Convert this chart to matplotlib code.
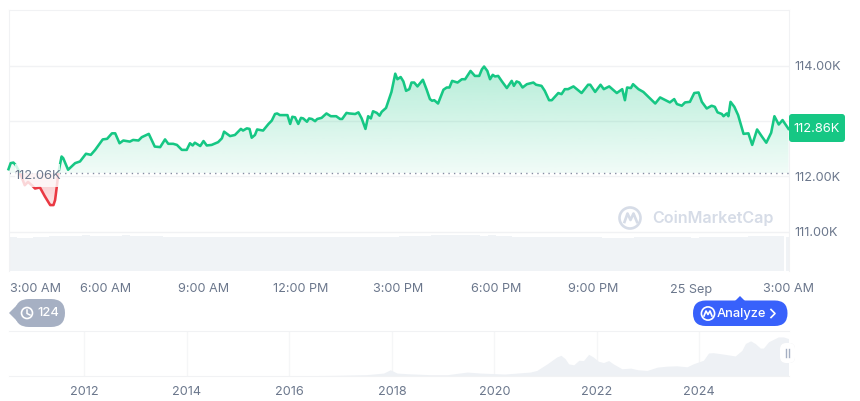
import numpy as np
import matplotlib
matplotlib.use("Agg")
import matplotlib.pyplot as plt
from matplotlib.patches import FancyBboxPatch, Polygon, Rectangle, Circle
from matplotlib.path import Path
from matplotlib.transforms import ScaledTranslation

plt.rcParams["font.family"] = ["Inter", "DejaVu Sans"]

# Price, minutes after 3:00 AM and price in thousands
minutes = [0, 4, 9, 13, 18, 24, 30, 36, 43, 49, 58, 67, 77, 83, 86, 89, 92, 98, 101, 110,
           123, 132, 143, 152, 160, 174, 182, 191, 197, 205, 212, 224, 230, 240, 246, 259, 270, 280, 289, 295,
           304, 311, 320, 329, 335, 340, 344, 354, 360, 366, 375, 387, 394, 398, 409, 418, 429, 433, 440, 445,
           449, 455, 459, 470, 480, 486, 492, 496, 501, 515, 520, 524, 529, 535, 540, 544, 551, 555, 560, 566,
           570, 578, 587, 595, 605, 612, 616, 624, 629, 640, 646, 652, 659, 664, 669, 673, 680, 685, 689, 697,
           707, 714, 718, 724, 729, 734, 740, 744, 749, 755, 765, 772, 778, 782, 786, 793, 803, 809, 814, 819,
           829, 837, 843, 853, 861, 869, 874, 878, 884, 889, 894, 898, 904, 911, 920, 929, 933, 938, 943, 949,
           957, 969, 974, 984, 990, 998, 1003, 1015, 1021, 1027, 1033, 1043, 1058, 1070, 1074, 1083, 1093, 1099, 1109, 1123,
           1133, 1138, 1142, 1149, 1153, 1163, 1172, 1194, 1203, 1209, 1215, 1221, 1229, 1234, 1243, 1249, 1258, 1266, 1274, 1280,
           1289, 1298, 1304, 1309, 1317, 1320, 1326, 1329, 1333, 1340, 1347, 1357, 1366, 1373, 1382, 1391, 1399, 1408, 1414, 1422,
           1429, 1440]
prices = [112.13, 112.24, 112.25, 112.21, 112.12, 111.99, 111.84, 111.90, 111.84, 111.78, 111.80, 111.64, 111.48, 111.48, 111.57, 111.80, 112.06, 112.36, 112.33, 112.12,
          112.24, 112.27, 112.41, 112.39, 112.48, 112.67, 112.68, 112.78, 112.78, 112.60, 112.65, 112.63, 112.66, 112.65, 112.71, 112.77, 112.54, 112.53, 112.67, 112.59,
          112.59, 112.57, 112.48, 112.48, 112.60, 112.56, 112.61, 112.55, 112.64, 112.56, 112.57, 112.62, 112.69, 112.81, 112.73, 112.75, 112.86, 112.83, 112.87, 112.86,
          112.70, 112.75, 112.85, 112.83, 112.95, 113.01, 113.13, 113.14, 113.11, 113.11, 112.95, 113.08, 113.07, 112.95, 113.06, 113.05, 112.99, 113.05, 113.04, 113.00,
          113.04, 113.06, 113.14, 113.09, 113.09, 113.04, 113.04, 113.15, 113.14, 113.13, 113.16, 113.05, 112.86, 113.09, 113.05, 113.18, 113.15, 113.10, 113.17, 113.24,
          113.53, 113.86, 113.76, 113.80, 113.72, 113.55, 113.58, 113.70, 113.70, 113.63, 113.75, 113.57, 113.40, 113.37, 113.38, 113.32, 113.57, 113.61, 113.61, 113.73,
          113.70, 113.76, 113.76, 113.91, 113.82, 113.82, 113.94, 113.99, 113.91, 113.76, 113.84, 113.81, 113.82, 113.72, 113.60, 113.73, 113.64, 113.72, 113.70, 113.61,
          113.67, 113.70, 113.66, 113.64, 113.55, 113.38, 113.38, 113.51, 113.49, 113.58, 113.58, 113.63, 113.51, 113.66, 113.66, 113.53, 113.66, 113.58, 113.63, 113.51,
          113.58, 113.38, 113.61, 113.60, 113.67, 113.58, 113.53, 113.32, 113.43, 113.40, 113.37, 113.34, 113.40, 113.31, 113.28, 113.34, 113.35, 113.51, 113.52, 113.35,
          113.23, 113.28, 113.26, 113.16, 113.13, 113.09, 113.14, 113.09, 113.35, 113.26, 113.11, 112.77, 112.78, 112.57, 112.85, 112.72, 112.61, 112.79, 113.09, 112.94,
          113.02, 112.86]
baseline = 112.06

# Volume per quarter hour, last value is the bar still forming
volumes = [33.7, 32.7, 33.0, 33.7, 33.7, 34.7, 34.7, 34.7, 35.4, 36.0, 35.0, 35.0, 35.0, 35.3, 35.8, 34.7,
           34.7, 34.7, 34.7, 34.5, 34.0, 34.3, 34.3, 34.5, 34.3, 34.3, 33.7, 33.7, 33.7, 33.7, 33.7, 33.7,
           33.7, 33.7, 34.0, 34.3, 34.3, 34.3, 33.9, 34.3, 34.3, 34.3, 34.3, 33.7, 33.8, 34.3, 34.0, 34.3,
           34.7, 35.2, 35.3, 35.0, 36.0, 36.0, 36.0, 36.0, 36.0, 36.0, 35.3, 35.7, 34.7, 34.7, 34.5, 34.2,
           33.9, 33.7, 33.7, 33.7, 33.7, 33.7, 34.0, 34.0, 34.0, 33.5, 33.3, 33.3, 33.5, 34.0, 34.0, 34.0,
           34.0, 34.0, 34.0, 33.6, 33.3, 33.6, 33.7, 33.7, 33.7, 33.7, 33.9, 34.8, 35.3, 35.5, 35.3, 34.5]

# Long range navigator, price in thousands
nav_years = [2010.52, 2016.0, 2016.86, 2017.5, 2017.84, 2017.97, 2018.1, 2018.3, 2018.75, 2019.08, 2019.47, 2019.73,
             2020.2, 2020.7, 2020.83, 2021.03, 2021.22, 2021.3, 2021.38, 2021.45, 2021.55, 2021.65, 2021.74, 2021.84,
             2021.93, 2022.03, 2022.13, 2022.23, 2022.32, 2022.49, 2022.66, 2022.8, 2022.98, 2023.18, 2023.37, 2023.56,
             2023.76, 2023.88, 2024.08, 2024.18, 2024.27, 2024.41, 2024.54, 2024.7, 2024.83, 2024.9, 2025.0, 2025.09,
             2025.19, 2025.25, 2025.35, 2025.45, 2025.54, 2025.64, 2025.74]
nav_prices = [0, 0.5, 2, 4, 9, 19, 9, 7, 4, 4, 12, 9,
              6, 12, 17, 37, 58, 63, 53, 37, 34, 48, 47, 66,
              58, 45, 41, 47, 37, 22, 24, 19, 17, 27, 30, 31,
              28, 37, 48, 70, 71, 68, 65, 61, 78, 99, 107, 99,
              85, 85, 104, 112, 119, 119, 114]

y_ticks = [111, 112, 113, 114]
y_labels = ["111.00K", "112.00K", "", "114.00K"]
x_ticks = [0, 180, 360, 540, 720, 900, 1080, 1260, 1440]
x_labels = ["3:00 AM", "6:00 AM", "9:00 AM", "12:00 PM", "3:00 PM", "6:00 PM", "9:00 PM", "25 Sep", "3:00 AM"]
year_ticks = [2012, 2014, 2016, 2018, 2020, 2022, 2024]

GREEN = "#16c784"
RED = "#ea3943"
TEXT = "#6b778c"
GRID = "#f1f2f4"
BAR = "#f0f3f6"

W, H = 860, 401


def px_axes(x0, y0, x1, y1):
    # axes from pixel box, y measured from the top
    return fig.add_axes([x0 / W, 1 - y1 / H, (x1 - x0) / W, (y1 - y0) / H])


fig = plt.figure(figsize=(W / 100, H / 100), dpi=100, facecolor="white")

# Volume strip sits behind the price chart
vol_ax = px_axes(8.5, 232, 788.5, 271)
vol_x = np.arange(len(volumes)) * 15 + 7.5
vol_w = np.full(len(volumes), 15.0)
vol_x[-2] += 3
vol_w[-2] = 21
vol_x[-1] = 1438
vol_w[-1] = 4
vol_ax.bar(vol_x, volumes, width=vol_w, color=BAR, linewidth=0)
vol_ax.set_xlim(0, 1440)
vol_ax.set_ylim(0, 39)
vol_ax.axis("off")

# Price chart
ax = px_axes(8.5, 10, 788.5, 271)
ax.patch.set_alpha(0)
ax.set_xlim(0, 1440)
ax.set_ylim(110.286, 115.014)
ax.set_yticks(y_ticks)
ax.set_yticklabels(y_labels)
ax.set_xticks(x_ticks)
ax.set_xticklabels(x_labels)
ax.yaxis.tick_right()
ax.tick_params(axis="both", length=0, labelsize=9.1, labelcolor=TEXT)
ax.tick_params(axis="x", pad=9)
ax.tick_params(axis="y", pad=4.5)
first = ax.get_xticklabels()[0]
first.set_horizontalalignment("left")
first.set_transform(first.get_transform() + ScaledTranslation(1.5 / 100, 0, fig.dpi_scale_trans))
ax.grid(axis="y", color=GRID, linewidth=1)
ax.set_axisbelow(True)
ax.spines["bottom"].set_visible(False)
for side in ["top", "left", "right"]:
    ax.spines[side].set_color(GRID)

x = np.array(minutes, dtype=float)
y = np.array(prices)

up_fill = ax.fill_between(x, y, baseline, where=y >= baseline, interpolate=True, facecolor="none", linewidth=0)
down_fill = ax.fill_between(x, y, baseline, where=y <= baseline, interpolate=True, facecolor="none", linewidth=0)


def gradient(poly, color, top_alpha, bottom_alpha, y0, y1):
    # vertical colour fade clipped to the area under the line
    rgb = matplotlib.colors.to_rgb(color)
    img = np.zeros((256, 1, 4))
    img[..., :3] = rgb
    img[:, 0, 3] = np.linspace(top_alpha, bottom_alpha, 256)
    im = ax.imshow(img, extent=[0, 1440, y0, y1], aspect="auto", origin="upper", zorder=1.5, interpolation="bilinear")
    im.set_clip_path(Path.make_compound_path(*poly.get_paths()), transform=ax.transData)


gradient(up_fill, GREEN, 0.33, 0.06, baseline, 114.1)
gradient(down_fill, RED, 0.30, 0.10, 111.4, baseline)
ax.set_xlim(0, 1440)
ax.set_ylim(110.286, 115.014)

ax.axhline(baseline, color="#858ca2", linewidth=1, linestyle=(0, (1, 3)), zorder=2)

up_line, = ax.plot(x, y, color=GREEN, linewidth=1.85, zorder=3, solid_joinstyle="round")
down_line, = ax.plot(x, y, color=RED, linewidth=1.85, zorder=3, solid_joinstyle="round")
up_line.set_clip_path(Rectangle((-10, baseline), 1460, 5, transform=ax.transData))
down_line.set_clip_path(Rectangle((-10, baseline - 5), 1460, 5, transform=ax.transData))

# Navigator at the bottom
nav = px_axes(8.5, 331, 788.5, 376)
nav.fill_between(nav_years, nav_prices, 0, color="#eef1f5", linewidth=0, zorder=2)
nav.set_xlim(2010.52, 2025.74)
nav.set_ylim(0, 137)
nav.set_xticks(year_ticks)
nav.set_xticklabels([str(t) for t in year_ticks])
nav.set_yticks([])
nav.tick_params(axis="x", length=0, labelsize=9.1, labelcolor=TEXT, pad=7)
nav.grid(axis="x", color="#f5f6f7", linewidth=0.9, zorder=1)
for side in ["left", "right"]:
    nav.spines[side].set_visible(False)
for side in ["top", "bottom"]:
    nav.spines[side].set_color(GRID)

# Overlay in pixel coordinates for badges, logo and labels
ui = fig.add_axes([0, 0, 1, 1])
ui.set_xlim(0, W)
ui.set_ylim(H, 0)
ui.axis("off")
ui.patch.set_alpha(0)


def pill(x0, y0, x1, y1, color, radius):
    ui.add_patch(FancyBboxPatch((x0 + radius, y0 + radius), x1 - x0 - 2 * radius, y1 - y0 - 2 * radius,
                                boxstyle=f"round,pad={radius},rounding_size={radius}",
                                facecolor=color, edgecolor="none"))


# Baseline price label over the chart
ui.add_patch(Rectangle((15, 164), 45, 23, facecolor="white", alpha=0.8, edgecolor="none"))
ui.text(38, 176, "112.06K", ha="center", va="center", fontsize=9.3, color=TEXT)

# Current price badge
pill(789, 114, 845, 142, GREEN, 3)
ui.text(817, 128.5, "112.86K", ha="center", va="center", fontsize=9.3, color="white")

# History badge
SLATE = "#a6b0c3"
pill(15, 299, 65, 327, SLATE, 14)
ui.add_patch(Polygon([(9, 313), (17, 305), (17, 321)], facecolor=SLATE, edgecolor="none"))
ui.add_patch(Circle((27, 313), 5.5, facecolor="none", edgecolor="white", linewidth=1.2))
ui.plot([27, 27, 30], [310, 313.5, 315], color="white", linewidth=1.1)
ui.text(48, 313.5, "124", ha="center", va="center", fontsize=9.3, color="white", fontweight="medium")

# Analyze button
BLUE = "#3861fb"
pill(693, 300.5, 787.5, 326, BLUE, 12.7)
ui.add_patch(Polygon([(735, 301), (740, 296), (745, 301)], facecolor=BLUE, edgecolor="none"))
ui.add_patch(Circle((708, 313.5), 6.6, facecolor="none", edgecolor="white", linewidth=1.2))
ui.plot([704, 706, 708, 710, 712], [316, 311, 314.5, 311, 316], color="white", linewidth=1.2)
ui.text(741, 314, "Analyze", ha="center", va="center", fontsize=9.3, color="white", fontweight="medium")
ui.plot([771, 775, 771], [309.5, 313.5, 317.5], color="white", linewidth=1.2)

# Watermark
MARK = "#d6dce7"
ui.add_patch(Circle((630, 218), 10.5, facecolor="none", edgecolor=MARK, linewidth=1.9))
ui.plot([624.5, 627.5, 630.5, 633.5, 637], [222, 213.5, 220, 213.5, 222], color=MARK, linewidth=1.9)
ui.text(652, 218.5, "CoinMarketCap", ha="left", va="center", fontsize=11.6, color=MARK, fontweight="semibold")

# Navigator handle
ui.add_patch(FancyBboxPatch((782, 345), 11, 16, boxstyle="round,pad=2,rounding_size=6",
                            facecolor="#e4e6ea", edgecolor="none", alpha=0.7))
pill(780, 343, 795, 363, "white", 6)
ui.plot([786, 786], [349, 357], color="#a6b0c3", linewidth=1)
ui.plot([789, 789], [349, 357], color="#a6b0c3", linewidth=1)

fig.savefig("out.png", dpi=100)
